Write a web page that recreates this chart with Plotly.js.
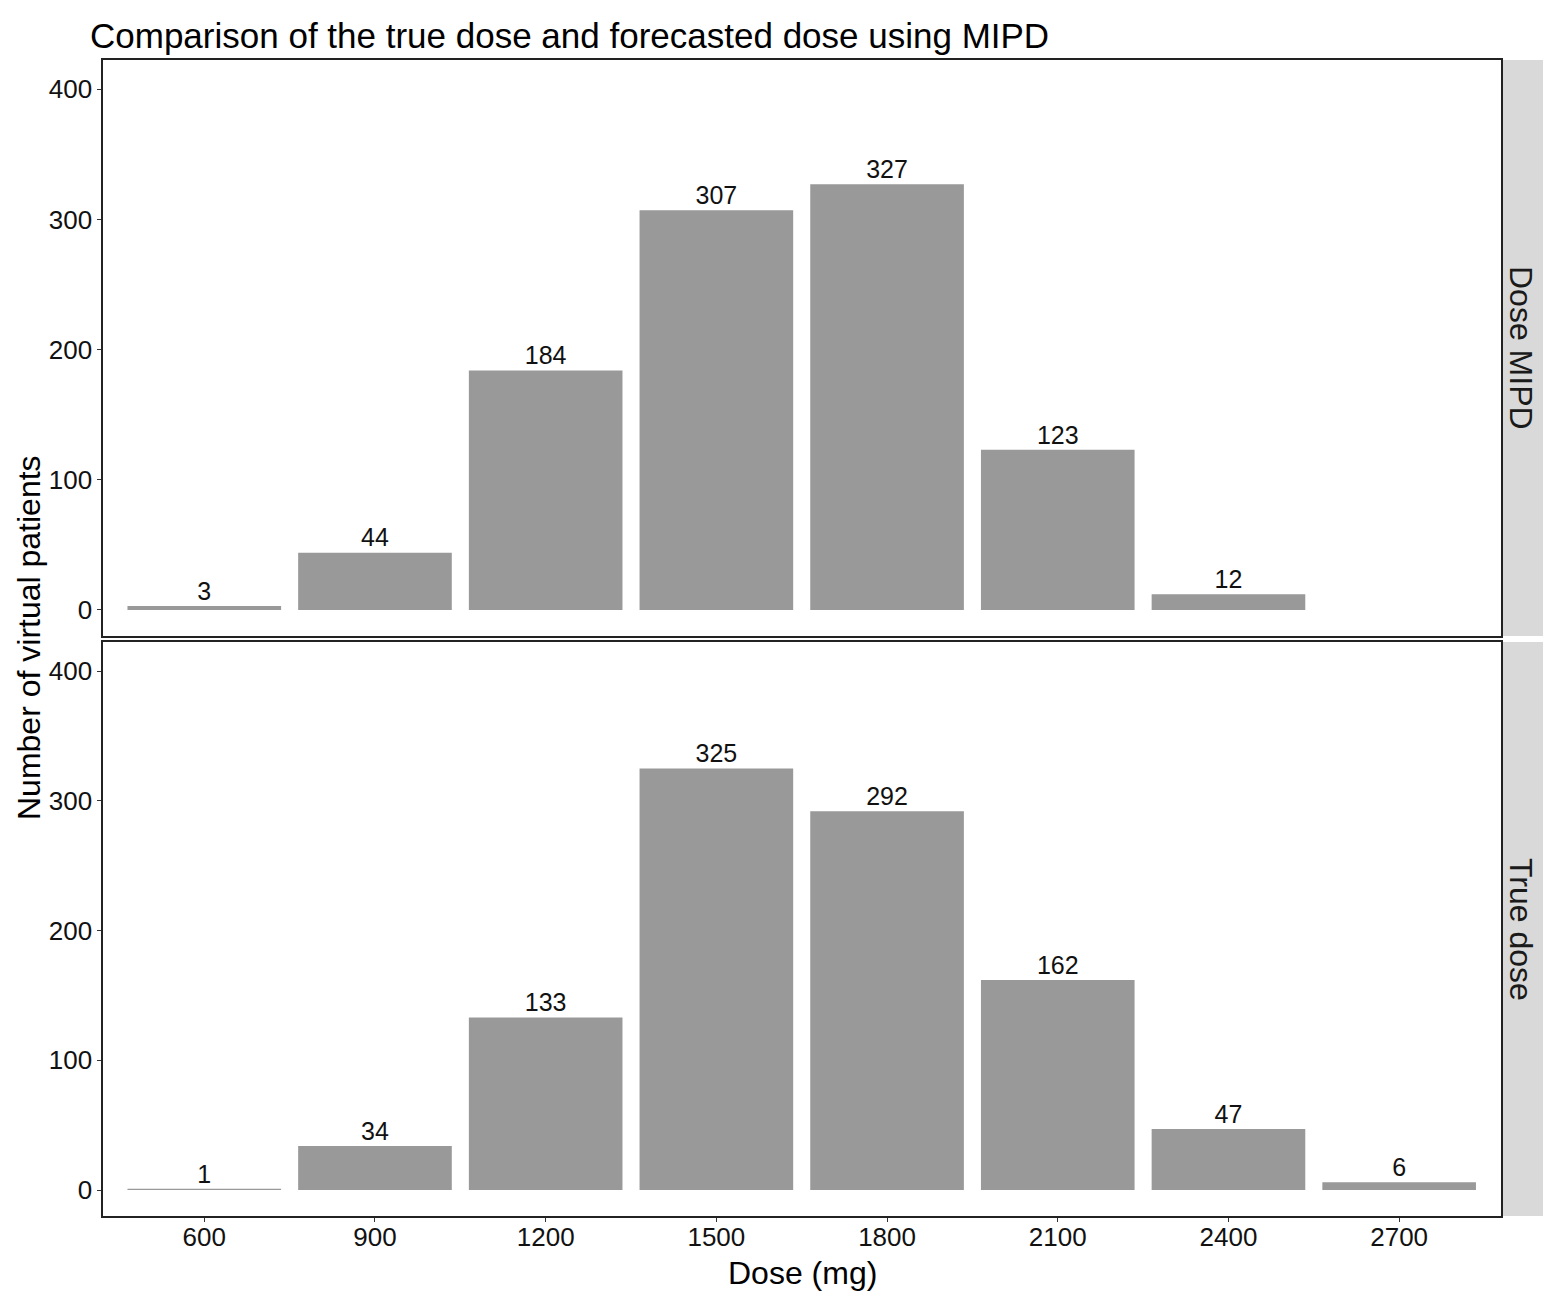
<!DOCTYPE html>
<html>
<head>
<meta charset="utf-8">
<script src="https://cdn.plot.ly/plotly-3.0.1.min.js"></script>
<style>
  html, body { margin: 0; padding: 0; background: #fff; }
  #chart { width: 1565px; height: 1309px; }
</style>
</head>
<body>
<div id="chart"></div>
<script>
// data
var doses = [600, 900, 1200, 1500, 1800, 2100, 2400, 2700];
var mipdDose = [600, 900, 1200, 1500, 1800, 2100, 2400];
var mipdCount = [3, 44, 184, 307, 327, 123, 12];
var trueDose = [600, 900, 1200, 1500, 1800, 2100, 2400, 2700];
var trueCount = [1, 34, 133, 325, 292, 162, 47, 6];
var panelLabels = ['Dose MIPD', 'True dose'];
var yTicks = [0, 100, 200, 300, 400];

var font = 'Liberation Sans, Arial, sans-serif';
var barColor = '#999999';

function bars(x, y, xa, ya) {
	return {
		type: 'bar', x: x, y: y, xaxis: xa, yaxis: ya,
		width: 270, marker: {color: barColor, line: {width: 0}},
		hoverinfo: 'x+y', showlegend: false
	};
}
function labels(x, y, xa, ya) {
	return {
		type: 'scatter', mode: 'text', x: x, y: y, xaxis: xa, yaxis: ya,
		text: y.map(String), textposition: 'top center',
		textfont: {family: font, size: 25, color: '#111'},
		cliponaxis: false, hoverinfo: 'skip', showlegend: false
	};
}

var data = [
	bars(mipdDose, mipdCount, 'x2', 'y2'),
	labels(mipdDose, mipdCount, 'x2', 'y2'),
	bars(trueDose, trueCount, 'x', 'y'),
	labels(trueDose, trueCount, 'x', 'y')
];

var xDom = [103/1565, 1501/1565];
var topDom = [1 - 636/1309, 1 - 60/1309];
var botDom = [1 - 1216/1309, 1 - 642/1309];
var yRange = [-20, 422.5];
var xRange = [422, 2879];

var lineStyle = {showline: true, linecolor: '#222', linewidth: 1.6, mirror: true, showgrid: false, zeroline: false};
var tickFont = {size: 26, color: '#111'};

var layout = {
	width: 1565, height: 1309,
	margin: {l: 0, r: 0, t: 0, b: 0},
	paper_bgcolor: '#fff', plot_bgcolor: '#fff',
	font: {family: font, color: '#111'},
	title: {text: 'Comparison of the true dose and forecasted dose using MIPD',
		x: 90/1565, xanchor: 'left', y: 1 - 36/1309, yanchor: 'middle',
		font: {family: font, size: 35, color: '#000'}},
	xaxis: Object.assign({domain: xDom, range: xRange, anchor: 'y',
		tickvals: doses, ticktext: doses.map(String), ticks: 'outside', ticklen: 4, tickcolor: '#333',
		ticklabelstandoff: -7, tickfont: tickFont}, lineStyle),
	yaxis: Object.assign({domain: botDom, range: yRange, anchor: 'x',
		tickvals: yTicks, ticks: 'outside', ticklen: 4, tickcolor: '#333',
		tickfont: tickFont}, lineStyle),
	xaxis2: Object.assign({domain: xDom, range: xRange, anchor: 'y2', matches: 'x',
		showticklabels: false, ticks: ''}, lineStyle),
	yaxis2: Object.assign({domain: topDom, range: yRange, anchor: 'x2',
		tickvals: yTicks, ticks: 'outside', ticklen: 4, tickcolor: '#333',
		tickfont: tickFont}, lineStyle),
	shapes: [
		{type: 'rect', xref: 'paper', yref: 'paper', x0: 1502/1565, x1: 1543/1565,
			y0: topDom[0], y1: topDom[1], fillcolor: '#d9d9d9', line: {width: 0}, layer: 'below'},
		{type: 'rect', xref: 'paper', yref: 'paper', x0: 1502/1565, x1: 1543/1565,
			y0: botDom[0], y1: botDom[1], fillcolor: '#d9d9d9', line: {width: 0}, layer: 'below'}
	],
	annotations: [
		{text: panelLabels[0], xref: 'paper', yref: 'paper', x: 1521/1565, y: (topDom[0] + topDom[1]) / 2,
			xanchor: 'center', yanchor: 'middle',
			textangle: 90, showarrow: false, font: {size: 32, color: '#1a1a1a'}},
		{text: panelLabels[1], xref: 'paper', yref: 'paper', x: 1521/1565, y: (botDom[0] + botDom[1]) / 2,
			xanchor: 'center', yanchor: 'middle',
			textangle: 90, showarrow: false, font: {size: 32, color: '#1a1a1a'}},
		{text: 'Number of virtual patients', xref: 'paper', yref: 'paper', x: 29/1565, y: 1 - 638/1309,
			xanchor: 'center', yanchor: 'middle',
			textangle: -90, showarrow: false, font: {size: 32, color: '#000'}},
		{text: 'Dose (mg)', xref: 'paper', yref: 'paper', x: 802/1565, y: 1 - 1273/1309,
			xanchor: 'center', yanchor: 'middle',
			showarrow: false, font: {size: 32, color: '#000'}}
	]
};

Plotly.newPlot('chart', data, layout, {displayModeBar: false, staticPlot: true});
</script>
</body>
</html>
